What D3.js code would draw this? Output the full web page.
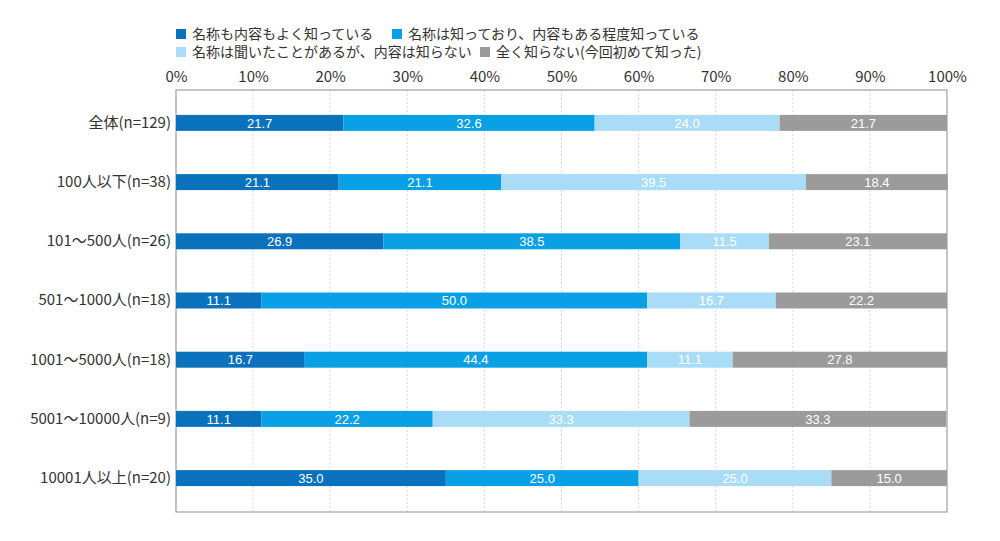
<!DOCTYPE html>
<html>
<head>
<meta charset="utf-8">
<script src="https://cdn.jsdelivr.net/npm/d3@7"></script>
<style>
  body { margin: 0; background: #fff; }
  text { font-family: "Noto Sans CJK JP", "Noto Sans", sans-serif; }
</style>
</head>
<body>
<svg id="chart" width="1000" height="541"></svg>
<script>
const categories = [
  "全体(n=129)",
  "100人以下(n=38)",
  "101～500人(n=26)",
  "501～1000人(n=18)",
  "1001～5000人(n=18)",
  "5001～10000人(n=9)",
  "10001人以上(n=20)"
];
const seriesNames = [
  "名称も内容もよく知っている",
  "名称は知っており、内容もある程度知っている",
  "名称は聞いたことがあるが、内容は知らない",
  "全く知らない(今回初めて知った)"
];
const wellKnown   = [21.7, 21.1, 26.9, 11.1, 16.7, 11.1, 35.0];
const somewhat    = [32.6, 21.1, 38.5, 50.0, 44.4, 22.2, 25.0];
const heardOnly   = [24.0, 39.5, 11.5, 16.7, 11.1, 33.3, 25.0];
const notAtAll    = [21.7, 18.4, 23.1, 22.2, 27.8, 33.3, 15.0];
const tickValues  = [0, 10, 20, 30, 40, 50, 60, 70, 80, 90, 100];
const colors = ["#0a72bc", "#0aa0e6", "#a9dcf6", "#9b9b9b"];

const series = [wellKnown, somewhat, heardOnly, notAtAll];
const rows = categories.map((c, i) => {
  const r = { cat: c };
  series.forEach((s, k) => r["s" + k] = s[i]);
  return r;
});
const keys = series.map((s, k) => "s" + k);
const stacked = d3.stack().keys(keys)(rows);

const svg = d3.select("#chart");
const plotL = 176, plotR = 947, plotT = 90, plotB = 512;

const x = d3.scaleLinear().domain([0, 100]).range([plotL, plotR]);
const y = d3.scaleBand().domain(categories).range([plotT + 3, plotB - 4]).paddingInner(0.73).paddingOuter(0.37);

// grid
svg.append("g").selectAll("line")
  .data(tickValues.slice(1, -1))
  .join("line")
  .attr("x1", d => x(d)).attr("x2", d => x(d))
  .attr("y1", plotT).attr("y2", plotB)
  .attr("stroke", "#d8d8d8")
  .attr("stroke-dasharray", "2,2");

// plot frame
svg.append("rect")
  .attr("x", plotL).attr("y", plotT)
  .attr("width", plotR - plotL).attr("height", plotB - plotT)
  .attr("fill", "none").attr("stroke", "#a0a0a0").attr("stroke-width", 1.2);

// top axis labels
const xAxis = d3.axisTop(x).tickValues(tickValues).tickFormat(d => d + "%").tickSize(0).tickPadding(8);
const ax = svg.append("g").attr("transform", `translate(0,${plotT})`).call(xAxis);
ax.select(".domain").remove();
ax.selectAll("text").attr("font-size", 15).attr("fill", "#333")
  .style("font-family", '"Noto Sans CJK JP", sans-serif');

// y labels
const yAxis = d3.axisLeft(y).tickSize(0).tickPadding(5);
const ay = svg.append("g").attr("transform", `translate(${plotL},0)`).call(yAxis);
ay.select(".domain").remove();
ay.selectAll("text").attr("font-size", 15).attr("fill", "#333")
  .style("font-family", '"Noto Sans CJK JP", sans-serif');

// bars
const layer = svg.append("g").selectAll("g")
  .data(stacked).join("g")
  .attr("fill", (d, k) => colors[k]);

layer.selectAll("rect")
  .data(d => d.map(v => ({ v, cat: v.data.cat })))
  .join("rect")
  .attr("x", d => x(d.v[0]))
  .attr("y", d => y(d.cat))
  .attr("width", d => x(d.v[1]) - x(d.v[0]))
  .attr("height", y.bandwidth());

layer.selectAll("text")
  .data(d => d.map(v => ({ v, cat: v.data.cat })))
  .join("text")
  .attr("x", d => (x(d.v[0]) + x(d.v[1])) / 2)
  .attr("y", d => y(d.cat) + y.bandwidth() / 2)
  .attr("dy", "0.36em")
  .attr("text-anchor", "middle")
  .attr("fill", "#fff")
  .attr("font-size", 13)
  .style("font-family", '"Liberation Sans", Arial, sans-serif')
  .text(d => (d.v[1] - d.v[0]).toFixed(1));

// legend
const legendPos = [[176, 34], [392, 34], [176, 52], [480, 52]];
const lg = svg.append("g").selectAll("g")
  .data(seriesNames).join("g")
  .attr("transform", (d, k) => `translate(${legendPos[k][0]},${legendPos[k][1]})`);
lg.append("rect").attr("x", 0).attr("y", -5).attr("width", 10).attr("height", 10)
  .attr("fill", (d, k) => colors[k]);
lg.append("text").attr("x", 16).attr("dy", "0.36em")
  .attr("font-size", 14).attr("fill", "#333")
  .text(d => d);
</script>
</body>
</html>
